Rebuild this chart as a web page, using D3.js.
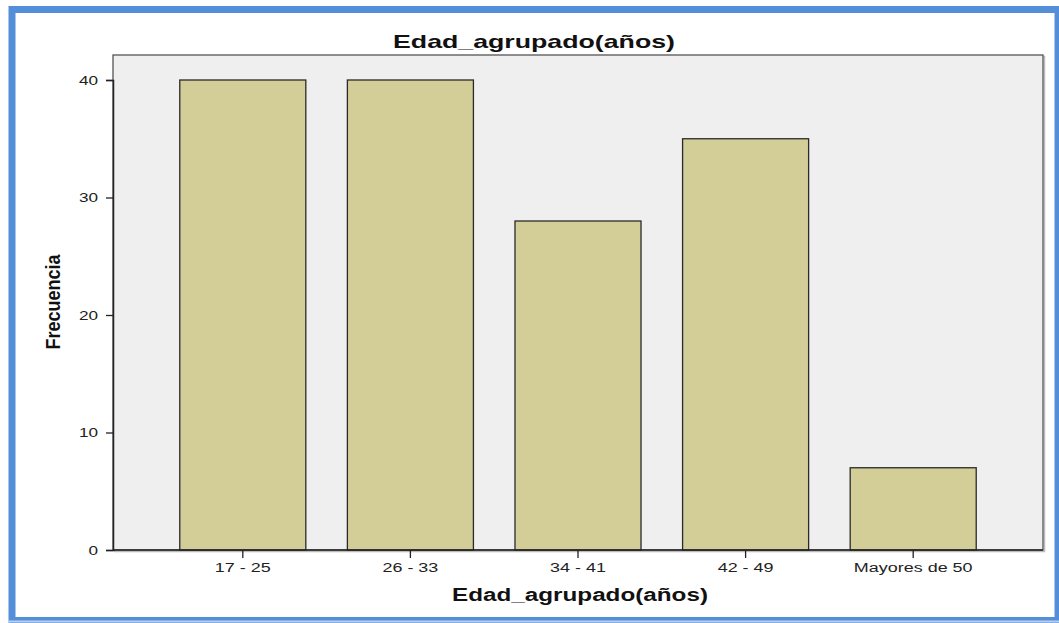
<!DOCTYPE html>
<html><head><meta charset="utf-8">
<script src="https://cdn.jsdelivr.net/npm/d3@7"></script>
<style>
html,body{margin:0;padding:0;background:#fff;}
svg{display:block;}
</style></head>
<body>
<script>
const categories = ["17 - 25", "26 - 33", "34 - 41", "42 - 49", "Mayores de 50"];
const values = [40, 40, 28, 35, 7];
const yTicks = [0, 10, 20, 30, 40];
const title = "Edad_agrupado(años)";
const xTitle = "Edad_agrupado(años)";
const yTitle = "Frecuencia";

const W = 1059, H = 623;
const svg = d3.select("body").append("svg").attr("width", W).attr("height", H);

// outer frame
svg.append("rect").attr("x", 0).attr("y", 0).attr("width", W).attr("height", H).attr("fill", "#fff");
svg.append("rect").attr("x", 12).attr("y", 9.5).attr("width", 1046).attr("height", 611)
  .attr("fill", "none").attr("stroke", "#558ed8").attr("stroke-width", 7);
svg.append("line").attr("x1", 8).attr("x2", 1059).attr("y1", 621.5).attr("y2", 621.5)
  .attr("stroke", "#b8d0f0").attr("stroke-width", 2);

const pl = 113, pr = 1043, pt = 55, pb = 550;
const FONT = "Liberation Sans, Arial, sans-serif";

const y = d3.scaleLinear().domain([0, 40]).range([pb, 80]);
const x = d3.scaleBand().domain(categories).range([pl + 46, pr - 46]).paddingInner(0.248).paddingOuter(0.124);

// plot background
svg.append("rect").attr("x", pl + 1.5).attr("y", pt + 1.5).attr("width", pr - pl).attr("height", pb - pt)
  .attr("fill", "none").attr("stroke", "#bbb").attr("stroke-width", 1.5);
svg.append("rect").attr("x", pl).attr("y", pt).attr("width", pr - pl).attr("height", pb - pt)
  .attr("fill", "#efefef").attr("stroke", "#555").attr("stroke-width", 1.3);

// bars
svg.selectAll("rect.bar").data(values).enter().append("rect").attr("class", "bar")
  .attr("x", (d, i) => x(categories[i]))
  .attr("y", d => y(d))
  .attr("width", x.bandwidth())
  .attr("height", d => y(0) - y(d))
  .attr("fill", "#d3ce97").attr("stroke", "#2a2a2a").attr("stroke-width", 1.3);

// axes
const yAxis = d3.axisLeft(y).tickValues(yTicks).tickSize(7).tickPadding(3).tickFormat(d3.format("d"));
const gy = svg.append("g").attr("transform", `translate(${pl},0)`).call(yAxis);
gy.select(".domain").attr("stroke", "#222").attr("stroke-width", 1.5);
gy.selectAll(".tick line").attr("stroke", "#222").attr("stroke-width", 1.3);
gy.selectAll("text").attr("font-family", FONT).attr("font-size", 13.5).attr("fill", "#222")
  .attr("x", -15 / 1.27).attr("transform", "scale(1.27,1)");

const xAxis = d3.axisBottom(x).tickSize(8).tickPadding(4).tickSizeOuter(0);
const gx = svg.append("g").attr("transform", `translate(0,${pb})`).call(xAxis);
gx.select(".domain").attr("stroke", "#222").attr("stroke-width", 1.5).attr("d", `M${pl},0H${pr}`);
gx.selectAll(".tick line").attr("stroke", "#222").attr("stroke-width", 1.3);
gx.selectAll("text").attr("font-family", FONT).attr("font-size", 13.5).attr("fill", "#222")
  .attr("transform", "scale(1.33,1)");

// titles
svg.append("text").attr("x", 534).attr("y", 48).attr("text-anchor", "middle")
  .attr("font-family", FONT).attr("font-weight", "bold").attr("font-size", 18.5)
  .attr("textLength", 282).attr("lengthAdjust", "spacingAndGlyphs")
  .attr("fill", "#111").text(title);
svg.append("text").attr("x", 580).attr("y", 601).attr("text-anchor", "middle")
  .attr("font-family", FONT).attr("font-weight", "bold").attr("font-size", 18)
  .attr("textLength", 256).attr("lengthAdjust", "spacingAndGlyphs")
  .attr("fill", "#111").text(xTitle);
svg.append("text").attr("transform", "translate(60,302) rotate(-90)").attr("text-anchor", "middle")
  .attr("font-family", "Liberation Sans Narrow, Arial Narrow, Liberation Sans, sans-serif")
  .attr("font-stretch", "condensed").attr("font-weight", "bold").attr("font-size", 21)
  .attr("textLength", 95).attr("lengthAdjust", "spacingAndGlyphs")
  .attr("fill", "#111").text(yTitle);
</script>
</body></html>
